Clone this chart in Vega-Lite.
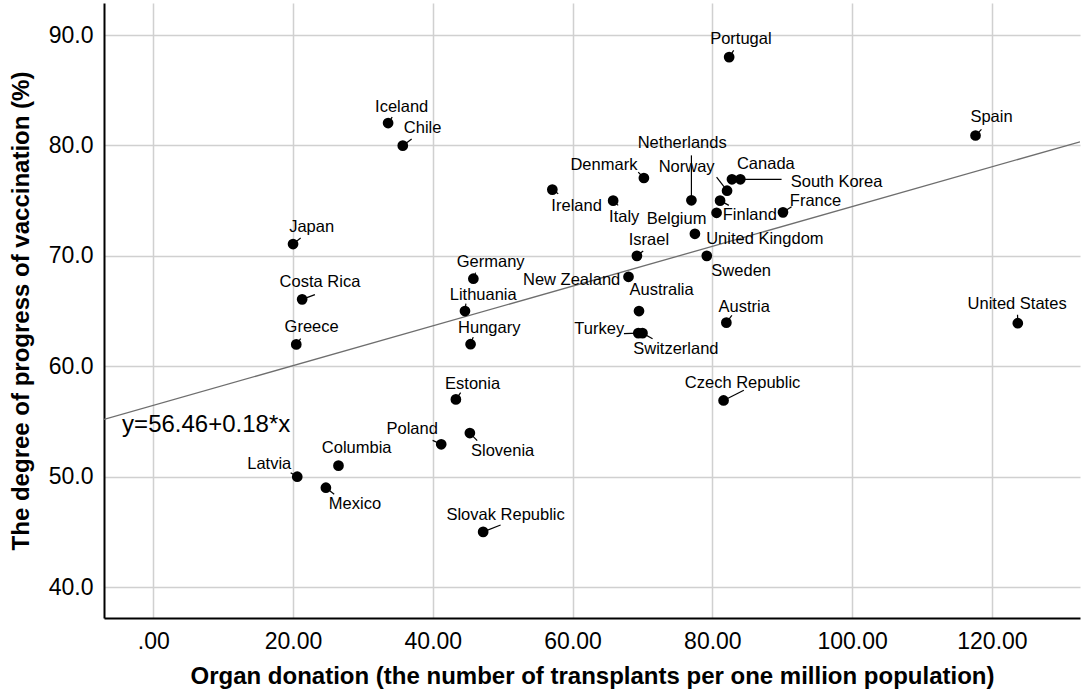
{
  "$schema": "https://vega.github.io/schema/vega-lite/v6.json",
  "width": 976,
  "height": 615,
  "autosize": "none",
  "padding": {"left": 104, "top": 3, "right": 4, "bottom": 78},
  "background": "white",
  "config": {
    "view": {"stroke": null},
    "font": "Liberation Sans",
    "axis": {
      "domainColor": "black",
      "domainWidth": 2,
      "gridColor": "#d0d0d0",
      "gridWidth": 1.5,
      "ticks": false,
      "labelFont": "Liberation Sans",
      "labelFontSize": 23,
      "labelColor": "black",
      "titleFont": "Liberation Sans",
      "titleFontSize": 24,
      "titleFontWeight": "bold",
      "titleColor": "black"
    }
  },
  "datasets": {
    "countries": [
      {"country": "Portugal", "x": 82.4, "y": 88.0, "lx": 84.08, "ly": 89.61, "ex": 83.05, "ey": 88.61},
      {"country": "Iceland", "x": 33.6, "y": 82.03, "lx": 35.54, "ly": 83.48, "ex": 34.19, "ey": 82.57},
      {"country": "Chile", "x": 35.7, "y": 79.98, "lx": 38.54, "ly": 81.58, "ex": 36.97, "ey": 80.58},
      {"country": "Japan", "x": 20.0, "y": 71.07, "lx": 22.66, "ly": 72.61, "ex": 21.09, "ey": 71.61},
      {"country": "Costa Rica", "x": 21.3, "y": 66.06, "lx": 23.85, "ly": 67.63, "ex": 23.13, "ey": 66.49},
      {"country": "Greece", "x": 20.46, "y": 61.98, "lx": 22.66, "ly": 63.55, "ex": 21.09, "ey": 62.5},
      {"country": "Germany", "x": 45.8, "y": 67.93, "lx": 48.27, "ly": 69.44, "ex": 46.12, "ey": 68.48},
      {"country": "Lithuania", "x": 44.6, "y": 65.0, "lx": 47.21, "ly": 66.49, "ex": 44.73, "ey": 65.67},
      {"country": "Hungary", "x": 45.4, "y": 62.0, "lx": 48.07, "ly": 63.5, "ex": 45.78, "ey": 62.64},
      {"country": "Latvia", "x": 20.6, "y": 50.0, "lx": 16.6, "ly": 51.11, "ex": 19.66, "ey": 50.36},
      {"country": "Columbia", "x": 26.5, "y": 51.0, "lx": 29.1, "ly": 52.63, "ex": 26.5, "ey": 51.0},
      {"country": "Mexico", "x": 24.7, "y": 49.0, "lx": 28.86, "ly": 47.56, "ex": 25.89, "ey": 48.4},
      {"country": "Estonia", "x": 43.3, "y": 57.0, "lx": 45.69, "ly": 58.42, "ex": 43.98, "ey": 57.61},
      {"country": "Poland", "x": 41.2, "y": 52.93, "lx": 37.05, "ly": 54.35, "ex": 39.97, "ey": 53.29},
      {"country": "Slovenia", "x": 45.3, "y": 53.95, "lx": 49.99, "ly": 52.32, "ex": 46.35, "ey": 53.26},
      {"country": "Slovak Republic", "x": 47.2, "y": 45.0, "lx": 50.41, "ly": 46.5, "ex": 49.7, "ey": 45.62},
      {"country": "Ireland", "x": 57.1, "y": 76.0, "lx": 60.57, "ly": 74.48, "ex": 57.94, "ey": 75.63},
      {"country": "Denmark", "x": 70.2, "y": 77.05, "lx": 64.48, "ly": 78.26, "ex": 69.39, "ey": 77.59},
      {"country": "Italy", "x": 65.8, "y": 75.0, "lx": 67.38, "ly": 73.51, "ex": 66.52, "ey": 74.57},
      {"country": "Netherlands", "x": 77.0, "y": 75.03, "lx": 75.68, "ly": 80.25, "ex": 77.0, "ey": 79.1},
      {"country": "Norway", "x": 82.1, "y": 75.9, "lx": 76.31, "ly": 78.04, "ex": 80.6, "ey": 77.14},
      {"country": "Canada", "x": 82.8, "y": 76.93, "lx": 87.65, "ly": 78.35, "ex": 82.8, "ey": 76.93},
      {"country": "South Korea", "x": 84.0, "y": 76.93, "lx": 97.77, "ly": 76.68, "ex": 89.9, "ey": 76.93},
      {"country": "Finland", "x": 81.1, "y": 75.0, "lx": 85.36, "ly": 73.67, "ex": 82.36, "ey": 74.57},
      {"country": "Belgium", "x": 80.6, "y": 73.9, "lx": 74.88, "ly": 73.37, "ex": 80.6, "ey": 73.9},
      {"country": "France", "x": 90.1, "y": 73.94, "lx": 94.76, "ly": 75.0, "ex": 91.33, "ey": 74.45},
      {"country": "United Kingdom", "x": 77.5, "y": 72.0, "lx": 87.51, "ly": 71.56, "ex": 77.5, "ey": 72.0},
      {"country": "Israel", "x": 69.2, "y": 70.0, "lx": 70.92, "ly": 71.47, "ex": 70.1, "ey": 70.43},
      {"country": "Sweden", "x": 79.2, "y": 70.0, "lx": 84.12, "ly": 68.62, "ex": 79.2, "ey": 70.0},
      {"country": "New Zealand", "x": 68.0, "y": 68.1, "lx": 59.86, "ly": 67.78, "ex": 68.0, "ey": 68.1},
      {"country": "Australia", "x": 69.5, "y": 65.0, "lx": 72.73, "ly": 66.88, "ex": 69.5, "ey": 65.0},
      {"country": "Turkey", "x": 69.4, "y": 63.0, "lx": 63.81, "ly": 63.41, "ex": 67.34, "ey": 62.95},
      {"country": "Switzerland", "x": 70.0, "y": 63.0, "lx": 74.78, "ly": 61.59, "ex": 71.44, "ey": 62.5},
      {"country": "Austria", "x": 82.0, "y": 63.95, "lx": 84.55, "ly": 65.36, "ex": 82.79, "ey": 64.61},
      {"country": "Czech Republic", "x": 81.6, "y": 56.9, "lx": 84.32, "ly": 58.51, "ex": 84.5, "ey": 57.82},
      {"country": "Spain", "x": 117.65, "y": 80.9, "lx": 119.94, "ly": 82.57, "ex": 118.5, "ey": 81.46},
      {"country": "United States", "x": 123.7, "y": 63.9, "lx": 123.6, "ly": 65.61, "ex": 123.66, "ey": 64.67}
    ],
    "fit": [
      {"x": -7.05, "y": 55.19},
      {"x": 132.6, "y": 80.33}
    ],
    "equation": [
      {"x": 7.57, "y": 54.72, "label": "y=56.46+0.18*x"}
    ]
  },
  "layer": [
    {
      "data": {"name": "countries"},
      "mark": {"type": "point", "opacity": 0},
      "encoding": {
        "x": {
          "field": "x",
          "type": "quantitative",
          "scale": {"domain": [-7.05, 132.6], "nice": false, "zero": false},
          "axis": {
            "values": [0, 20, 40, 60, 80, 100, 120],
            "labelExpr": "datum.value === 0 ? '.00' : format(datum.value, '.2f')",
            "labelPadding": 12,
            "title": "Organ donation (the number of transplants per one million population)",
            "titlePadding": 11
          }
        },
        "y": {
          "field": "y",
          "type": "quantitative",
          "scale": {"domain": [37.2, 92.9], "nice": false, "zero": false},
          "axis": {
            "values": [40, 50, 60, 70, 80, 90],
            "format": ".1f",
            "labelPadding": 11,
            "title": "The degree of progress of vaccination (%)",
            "titlePadding": 15
          }
        }
      }
    },
    {
      "data": {"name": "fit"},
      "mark": {"type": "line", "color": "#6e6e6e", "strokeWidth": 1.3, "clip": true},
      "encoding": {
        "x": {"field": "x", "type": "quantitative"},
        "y": {"field": "y", "type": "quantitative"}
      }
    },
    {
      "data": {"name": "countries"},
      "mark": {"type": "rule", "color": "black", "strokeWidth": 1.2},
      "encoding": {
        "x": {"field": "x", "type": "quantitative"},
        "y": {"field": "y", "type": "quantitative"},
        "x2": {"field": "ex"},
        "y2": {"field": "ey"}
      }
    },
    {
      "data": {"name": "countries"},
      "mark": {"type": "circle", "color": "black", "opacity": 1, "size": 115},
      "encoding": {
        "x": {"field": "x", "type": "quantitative"},
        "y": {"field": "y", "type": "quantitative"}
      }
    },
    {
      "data": {"name": "countries"},
      "mark": {"type": "text", "align": "center", "baseline": "middle", "fontSize": 16.5, "font": "Liberation Sans", "color": "black"},
      "encoding": {
        "x": {"field": "lx", "type": "quantitative"},
        "y": {"field": "ly", "type": "quantitative"},
        "text": {"field": "country"}
      }
    },
    {
      "data": {"name": "equation"},
      "mark": {"type": "text", "align": "center", "baseline": "middle", "fontSize": 24, "font": "Liberation Sans", "color": "black"},
      "encoding": {
        "x": {"field": "x", "type": "quantitative"},
        "y": {"field": "y", "type": "quantitative"},
        "text": {"field": "label"}
      }
    }
  ]
}
